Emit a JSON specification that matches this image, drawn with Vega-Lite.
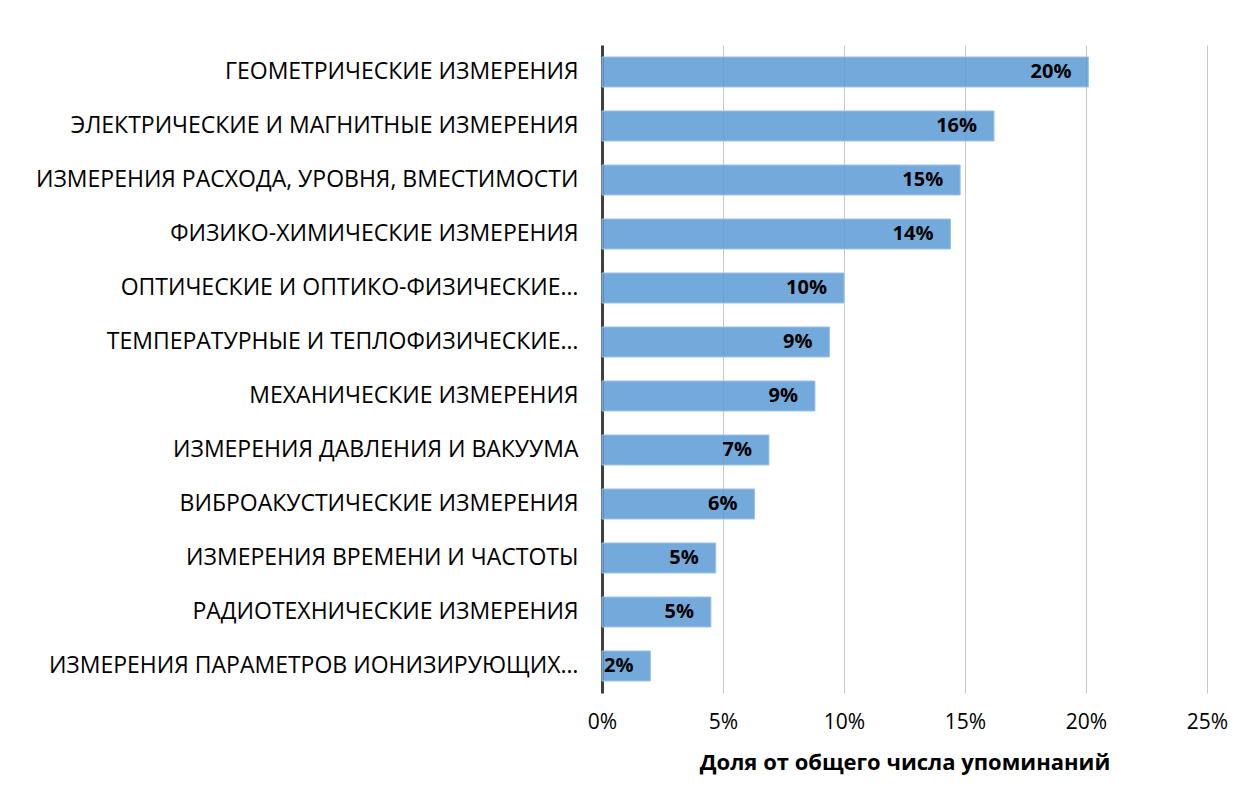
{
  "$schema": "https://vega.github.io/schema/vega-lite/v6.json",
  "autosize": "none",
  "width": 605,
  "height": 648,
  "padding": {"left": 602, "top": 45, "right": 39, "bottom": 111},
  "background": "white",
  "data": {
    "values": [
      {"category": "ГЕОМЕТРИЧЕСКИЕ ИЗМЕРЕНИЯ", "share": 0.201},
      {"category": "ЭЛЕКТРИЧЕСКИЕ И МАГНИТНЫЕ ИЗМЕРЕНИЯ", "share": 0.162},
      {"category": "ИЗМЕРЕНИЯ РАСХОДА, УРОВНЯ, ВМЕСТИМОСТИ", "share": 0.148},
      {"category": "ФИЗИКО-ХИМИЧЕСКИЕ ИЗМЕРЕНИЯ", "share": 0.144},
      {"category": "ОПТИЧЕСКИЕ И ОПТИКО-ФИЗИЧЕСКИЕ…", "share": 0.1},
      {"category": "ТЕМПЕРАТУРНЫЕ И ТЕПЛОФИЗИЧЕСКИЕ…", "share": 0.094},
      {"category": "МЕХАНИЧЕСКИЕ ИЗМЕРЕНИЯ", "share": 0.088},
      {"category": "ИЗМЕРЕНИЯ ДАВЛЕНИЯ И ВАКУУМА", "share": 0.069},
      {"category": "ВИБРОАКУСТИЧЕСКИЕ ИЗМЕРЕНИЯ", "share": 0.063},
      {"category": "ИЗМЕРЕНИЯ ВРЕМЕНИ И ЧАСТОТЫ", "share": 0.047},
      {"category": "РАДИОТЕХНИЧЕСКИЕ ИЗМЕРЕНИЯ", "share": 0.045},
      {"category": "ИЗМЕРЕНИЯ ПАРАМЕТРОВ ИОНИЗИРУЮЩИХ…", "share": 0.02}
    ]
  },
  "encoding": {
    "y": {
      "field": "category",
      "type": "nominal",
      "sort": null,
      "scale": {"paddingInner": 0.444, "paddingOuter": 0.222},
      "axis": {
        "title": null,
        "ticks": false,
        "domainColor": "#404040",
        "domainWidth": 3,
        "labelFont": "Open Sans",
        "labelFontSize": 23,
        "labelColor": "#000000",
        "labelPadding": 24,
        "labelLimit": 600
      }
    },
    "x": {
      "field": "share",
      "type": "quantitative",
      "scale": {"domain": [0, 0.25], "nice": false, "zero": true},
      "axis": {
        "title": "Доля от общего числа упоминаний",
        "titleFont": "Open Sans",
        "titleFontSize": 22,
        "titleFontWeight": "bold",
        "titleColor": "#000000",
        "titlePadding": 20,
        "values": [0, 0.05, 0.1, 0.15, 0.2, 0.25],
        "format": ".0%",
        "domain": false,
        "ticks": false,
        "grid": true,
        "gridColor": "#c8c8c8",
        "gridWidth": 1,
        "labelFont": "Open Sans",
        "labelFontSize": 21,
        "labelColor": "#000000",
        "labelPadding": 18,
        "labelFlush": false
      }
    }
  },
  "layer": [
    {
      "mark": {
        "type": "bar",
        "color": "#5b9bd5",
        "fillOpacity": 0.85,
        "stroke": "#9dc3e6",
        "strokeWidth": 1
      }
    },
    {
      "mark": {
        "type": "text",
        "align": "right",
        "baseline": "middle",
        "dx": -17,
        "font": "Open Sans",
        "fontSize": 20,
        "fontWeight": "bold",
        "color": "#000000"
      },
      "encoding": {
        "text": {"field": "share", "type": "quantitative", "format": ".0%"}
      }
    }
  ],
  "config": {
    "view": {"stroke": null}
  }
}
